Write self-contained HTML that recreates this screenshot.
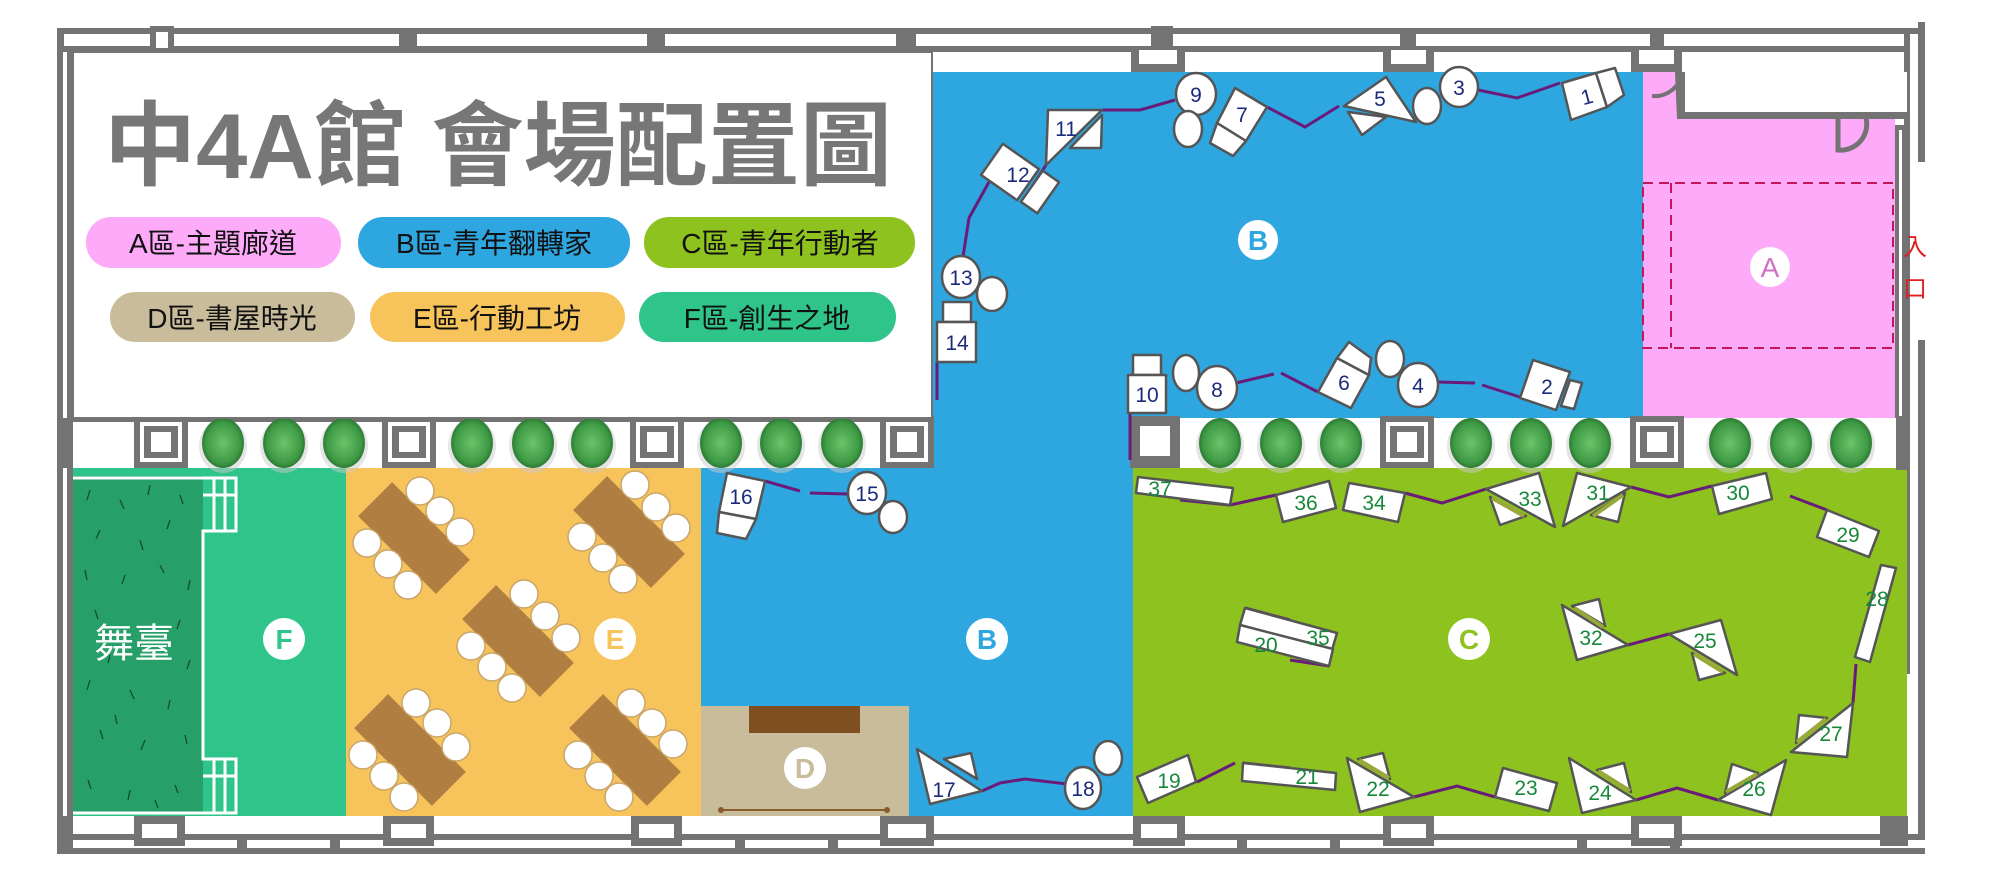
<!DOCTYPE html>
<html><head><meta charset="utf-8"><style>
html,body{margin:0;padding:0;background:#fff;}
svg{display:block;}
.t{font-family:"Liberation Sans","Noto Sans CJK TC",sans-serif;}
</style></head><body>
<svg width="2000" height="886" viewBox="0 0 2000 886" xmlns="http://www.w3.org/2000/svg">
<defs>
<g id="pil"><rect x="0" y="0" width="54" height="52" fill="#737373"/><rect x="6" y="6" width="42" height="40" fill="#fff"/><rect x="10" y="10" width="34" height="32" fill="#737373"/><rect x="17" y="16" width="20" height="20" fill="#fff"/></g>
<g id="pil2"><rect x="0" y="0" width="50" height="52" fill="#737373"/><rect x="10" y="10" width="30" height="30" fill="#fff"/></g>
<radialGradient id="bush" cx="50%" cy="50%" r="50%"><stop offset="0" stop-color="#6cc46a"/><stop offset="0.8" stop-color="#3f9a45"/><stop offset="1" stop-color="#2c7a34"/></radialGradient>
<g id="bu"><ellipse cx="0" cy="3" rx="24" ry="27" fill="#ccc" opacity="0.5"/><ellipse cx="0" cy="0" rx="21" ry="25" fill="url(#bush)"/></g>
<g id="ch"><circle r="14" fill="#fff" stroke="#c9a56a" stroke-width="1.5"/></g>
<g id="tb"><rect x="-55" y="-24" width="110" height="48" fill="#b07e40"/></g>
</defs>

<!-- outer walls -->
<rect x="57" y="28" width="1868" height="826" fill="none"/>
<rect x="57" y="28" width="1868" height="6" fill="#737373"/>
<rect x="57" y="46" width="1850" height="6" fill="#737373"/>
<rect x="57" y="28" width="7" height="26" fill="#737373"/>
<rect x="1918" y="22" width="7" height="140" fill="#737373"/>
<rect x="1904" y="34" width="6" height="640" fill="#737373"/>
<rect x="1918" y="340" width="7" height="500" fill="#737373"/>
<g fill="#737373">
<rect x="150" y="26" width="24" height="28"/><rect x="156" y="32" width="12" height="16" fill="#fff"/>
<rect x="399" y="30" width="18" height="24"/><rect x="647" y="30" width="18" height="24"/><rect x="896" y="30" width="20" height="24"/>
<rect x="1151" y="26" width="22" height="28"/><rect x="1400" y="30" width="16" height="24"/><rect x="1650" y="30" width="14" height="24"/>
</g>
<!-- left wall -->
<rect x="57" y="52" width="16" height="800" fill="#737373"/>
<rect x="63" y="52" width="4" height="366" fill="#fff"/>
<rect x="63" y="468" width="4" height="348" fill="#fff"/>
<!-- bottom wall -->
<rect x="57" y="834" width="1868" height="6" fill="#737373"/>
<rect x="57" y="848" width="1868" height="6" fill="#737373"/>
<g fill="#737373">
<rect x="237" y="834" width="10" height="20"/><rect x="330" y="834" width="10" height="20"/><rect x="735" y="834" width="10" height="20"/><rect x="828" y="834" width="10" height="20"/><rect x="1237" y="834" width="10" height="20"/><rect x="1330" y="834" width="10" height="20"/><rect x="1577" y="834" width="10" height="20"/><rect x="1670" y="834" width="10" height="20"/>
</g>
<g fill="#737373">
<rect x="134" y="816" width="51" height="30"/><rect x="142" y="824" width="35" height="14" fill="#fff"/>
<rect x="383" y="816" width="51" height="30"/><rect x="391" y="824" width="35" height="14" fill="#fff"/>
<rect x="631" y="816" width="51" height="30"/><rect x="639" y="824" width="35" height="14" fill="#fff"/>
<rect x="880" y="816" width="54" height="30"/><rect x="888" y="824" width="38" height="14" fill="#fff"/>
<rect x="1133" y="816" width="52" height="30"/><rect x="1141" y="824" width="36" height="14" fill="#fff"/>
<rect x="1383" y="816" width="51" height="30"/><rect x="1391" y="824" width="35" height="14" fill="#fff"/>
<rect x="1631" y="816" width="51" height="30"/><rect x="1639" y="824" width="35" height="14" fill="#fff"/>
<rect x="1880" y="816" width="28" height="30"/>
</g>

<!-- top pillars right -->
<g fill="#737373">
<rect x="1131" y="50" width="54" height="22"/><rect x="1139" y="50" width="38" height="14" fill="#fff"/>
<rect x="1383" y="50" width="51" height="22"/><rect x="1391" y="50" width="35" height="14" fill="#fff"/>
<rect x="1631" y="50" width="51" height="22"/><rect x="1639" y="50" width="35" height="14" fill="#fff"/>
</g>

<!-- zones -->
<rect x="932" y="72" width="712" height="346" fill="#2ea6e0"/>
<rect x="932" y="418" width="201" height="50" fill="#2ea6e0"/>
<rect x="701" y="468" width="432" height="348" fill="#2ea6e0"/>
<rect x="1643" y="72" width="252" height="346" fill="#fdaaf8"/>
<rect x="1685" y="72" width="222" height="44" fill="#fff"/>
<path d="M1675 72 L1685 72 L1685 112 L1907 112 L1907 119 L1677 119 Z" fill="#737373"/>
<path d="M1682 74 A28 28 0 0 1 1652 96" fill="none" stroke="#737373" stroke-width="4"/>
<path d="M1838 118 L1838 150 A26 26 0 0 0 1866 118" fill="none" stroke="#737373" stroke-width="5"/>
<rect x="1895" y="125" width="12" height="296" fill="#737373"/>
<rect x="1899" y="130" width="3" height="286" fill="#fff"/>
<rect x="1643" y="183" width="250" height="165" fill="none" stroke="#c2185b" stroke-width="2" stroke-dasharray="10,6"/>
<line x1="1671" y1="183" x2="1671" y2="348" stroke="#c2185b" stroke-width="2" stroke-dasharray="10,6"/>
<text class="t" x="1915" y="255" font-size="24" fill="#e02020" text-anchor="middle">入</text>
<text class="t" x="1915" y="297" font-size="24" fill="#e02020" text-anchor="middle">口</text>

<rect x="73" y="468" width="273" height="348" fill="#2ec48a"/>
<rect x="73" y="476" width="130" height="337" fill="#279f68"/>
<g stroke="#114d30" stroke-width="1.3">
<path d="M90 490l-3 10M120 500l4 9M150 485l-2 10M180 495l3 9M100 530l-4 9M140 540l3 10M170 520l-3 9M85 570l2 10M125 575l-3 9M160 565l4 8M190 580l-2 10M95 610l3 9M180 620l-3 9M90 680l-3 10M130 690l4 9M170 700l-2 9M100 730l3 9M145 740l-4 10M185 735l2 9M88 780l3 9M130 790l-2 10M175 785l3 8M110 655l-2 8M190 660l-3 9M115 715l2 9M155 800l3 8"/>
</g>
<g fill="none" stroke="#fff" stroke-width="3">
<path d="M73 478 H236 V531 H203 V759 H236 V813 H73"/>
<path d="M214 478 V531 M225 478 V531 M214 759 V813 M225 759 V813 M203 495 H236 M203 776 H236"/>
</g>
<text class="t" x="134" y="657" font-size="40" fill="#fff" text-anchor="middle">舞臺</text>

<rect x="346" y="468" width="355" height="348" fill="#f7c35b"/>
<rect x="701" y="706" width="208" height="110" fill="#c9bc9b"/>
<rect x="749" y="706" width="111" height="27" fill="#7f4f22"/>
<line x1="721" y1="810" x2="887" y2="810" stroke="#8a5a2a" stroke-width="2"/>
<circle cx="721" cy="810" r="3" fill="#8a5a2a"/><circle cx="887" cy="810" r="3" fill="#8a5a2a"/>
<rect x="1133" y="468" width="774" height="348" fill="#8dc21f"/>

<!-- plant row -->
<rect x="73" y="418" width="860" height="50" fill="#fff"/>
<rect x="1133" y="418" width="774" height="50" fill="#fff"/>
<rect x="73" y="418" width="860" height="4" fill="#737373"/>
<use href="#pil" x="134" y="416"/><use href="#pil" x="382" y="416"/><use href="#pil" x="630" y="416"/><use href="#pil" x="880" y="416"/>
<use href="#pil2" x="1130" y="416"/><use href="#pil" x="1380" y="416"/><use href="#pil" x="1630" y="416"/>
<rect x="1896" y="416" width="14" height="54" fill="#737373"/>
<use href="#bu" x="223" y="443"/><use href="#bu" x="284" y="443"/><use href="#bu" x="344" y="443"/>
<use href="#bu" x="472" y="443"/><use href="#bu" x="533" y="443"/><use href="#bu" x="592" y="443"/>
<use href="#bu" x="721" y="443"/><use href="#bu" x="781" y="443"/><use href="#bu" x="842" y="443"/>
<use href="#bu" x="1220" y="443"/><use href="#bu" x="1281" y="443"/><use href="#bu" x="1341" y="443"/>
<use href="#bu" x="1471" y="443"/><use href="#bu" x="1531" y="443"/><use href="#bu" x="1590" y="443"/>
<use href="#bu" x="1730" y="443"/><use href="#bu" x="1791" y="443"/><use href="#bu" x="1851" y="443"/>

<!-- legend box -->
<rect x="73" y="52" width="859" height="366" fill="#fff" stroke="#737373" stroke-width="2"/>
<text class="t" x="498" y="178" font-size="92" font-weight="bold" fill="#777" text-anchor="middle" textLength="788" lengthAdjust="spacingAndGlyphs">中4A館 會場配置圖</text>
<g class="t" font-size="28" fill="#111">
<rect x="86" y="217" width="255" height="51" rx="25" fill="#fdaaf8"/><text x="213" y="253" text-anchor="middle">A區-主題廊道</text>
<rect x="358" y="217" width="272" height="51" rx="25" fill="#2ea6e0"/><text x="494" y="253" text-anchor="middle">B區-青年翻轉家</text>
<rect x="644" y="217" width="271" height="51" rx="25" fill="#8dc21f"/><text x="780" y="253" text-anchor="middle">C區-青年行動者</text>
<rect x="110" y="292" width="245" height="50" rx="25" fill="#c9bc9b"/><text x="232" y="328" text-anchor="middle">D區-書屋時光</text>
<rect x="370" y="292" width="255" height="50" rx="25" fill="#f7c35b"/><text x="497" y="328" text-anchor="middle">E區-行動工坊</text>
<rect x="639" y="292" width="257" height="50" rx="25" fill="#2ec48a"/><text x="767" y="328" text-anchor="middle">F區-創生之地</text>
</g>

<!-- zone markers -->
<g class="t" font-size="28" font-weight="bold" text-anchor="middle">
<circle cx="1258" cy="240" r="20" fill="#fff"/><text x="1258" y="250" fill="#2ea6e0">B</text>
<circle cx="1770" cy="267" r="20" fill="#fff"/><text x="1770" y="277" fill="#d070c0" font-weight="normal">A</text>
<circle cx="284" cy="639" r="21" fill="#fff"/><text x="284" y="649" fill="#2ec48a">F</text>
<circle cx="615" cy="639" r="21" fill="#fff"/><text x="615" y="649" fill="#f7c35b">E</text>
<circle cx="987" cy="639" r="21" fill="#fff"/><text x="987" y="649" fill="#2ea6e0">B</text>
<circle cx="805" cy="768" r="21" fill="#fff"/><text x="805" y="778" fill="#c9bc9b">D</text>
<circle cx="1469" cy="639" r="21" fill="#fff"/><text x="1469" y="649" fill="#8dc21f">C</text>
</g>

<!-- E tables -->
<g>
<g transform="translate(414,538) rotate(45)"><use href="#tb"/></g>
<use href="#ch" x="420" y="491"/><use href="#ch" x="440" y="511"/><use href="#ch" x="460" y="532"/><use href="#ch" x="367" y="543"/><use href="#ch" x="388" y="564"/><use href="#ch" x="408" y="585"/>
<g transform="translate(629,532) rotate(45)"><use href="#tb"/></g>
<use href="#ch" x="635" y="485"/><use href="#ch" x="656" y="507"/><use href="#ch" x="676" y="528"/><use href="#ch" x="582" y="537"/><use href="#ch" x="603" y="558"/><use href="#ch" x="623" y="579"/>
<g transform="translate(518,641) rotate(45)"><use href="#tb"/></g>
<use href="#ch" x="524" y="594"/><use href="#ch" x="545" y="616"/><use href="#ch" x="566" y="638"/><use href="#ch" x="471" y="646"/><use href="#ch" x="492" y="667"/><use href="#ch" x="512" y="688"/>
<g transform="translate(410,750) rotate(45)"><use href="#tb"/></g>
<use href="#ch" x="416" y="703"/><use href="#ch" x="437" y="723"/><use href="#ch" x="456" y="747"/><use href="#ch" x="363" y="755"/><use href="#ch" x="384" y="776"/><use href="#ch" x="404" y="797"/>
<g transform="translate(625,750) rotate(45)"><use href="#tb"/></g>
<use href="#ch" x="631" y="703"/><use href="#ch" x="652" y="723"/><use href="#ch" x="673" y="744"/><use href="#ch" x="578" y="755"/><use href="#ch" x="599" y="776"/><use href="#ch" x="619" y="797"/>
</g>

<!-- connectors -->
<g fill="none" stroke="#6a1b7a" stroke-width="3">
<polyline points="1478,90 1517,98 1560,83"/>
<polyline points="1267,107 1305,127 1339,106"/>
<polyline points="1175,100 1140,110 1102,110"/>
<polyline points="1046,165 1030,190"/>
<polyline points="989,182 969,218 963,257"/>
<polyline points="937,362 937,400"/>
<polyline points="1236,383 1274,374"/><polyline points="1281,373 1318,392"/>
<polyline points="1437,382 1475,383"/><polyline points="1482,385 1520,397"/>
<polyline points="1130,413 1130,460"/>
<polyline points="765,481 800,491"/><polyline points="810,493 848,494"/>
<polyline points="982,791 1000,783 1025,779 1067,784"/>
<polyline points="1230,505 1276,495"/>
<polyline points="1405,493 1442,503 1486,489"/>
<polyline points="1631,487 1669,497 1712,486"/>
<polyline points="1790,496 1827,510"/>
<polyline points="1868,620 1858,655"/>
<polyline points="1856,664 1853,703"/>
<polyline points="1718,800 1677,788 1636,800"/>
<polyline points="1495,797 1457,786 1414,797"/>
<polyline points="1197,782 1235,763"/>
<polyline points="1628,645 1669,634"/>
<polyline points="1245,608 1290,620"/><polyline points="1290,660 1329,666"/>
<polyline points="1180,500 1230,505"/>
<polyline points="1243,763 1290,768"/>
</g>

<!-- booths -->
<g fill="#fff" stroke="#555" stroke-width="2.5" stroke-linejoin="round">
<!-- B upper -->
<polygon points="1562,83 1596,73 1607,107 1571,120"/>
<polygon points="1596,73 1615,68 1624,95 1607,107"/>
<ellipse cx="1459" cy="87" rx="19" ry="20"/><ellipse cx="1427" cy="106" rx="14" ry="18"/>
<polygon points="1386,77 1416,122 1344,106"/><polygon points="1348,112 1386,117 1362,135"/>
<polygon points="1235,88 1267,107 1246,141 1217,123"/><polygon points="1217,123 1246,141 1233,156 1210,143"/>
<ellipse cx="1196" cy="94" rx="20" ry="21"/><ellipse cx="1188" cy="129" rx="14" ry="18"/>
<polygon points="1048,110 1102,110 1046,165"/><polygon points="1102,115 1101,148 1070,148"/>
<g transform="translate(1010,172) rotate(35)"><rect x="-22" y="-19" width="44" height="38"/></g>
<g transform="translate(1040,192) rotate(35)"><rect x="-10" y="-19" width="20" height="38"/></g>
<ellipse cx="961" cy="277" rx="19" ry="21"/><ellipse cx="992" cy="294" rx="15" ry="17"/>
<rect x="943" y="302" width="28" height="20"/><rect x="937" y="322" width="39" height="40"/>
<!-- B lower upper row -->
<polygon points="1533,360 1570,372 1556,410 1520,398"/><polygon points="1570,380 1582,383 1574,409 1561,406"/>
<ellipse cx="1418" cy="385" rx="20" ry="22"/><ellipse cx="1390" cy="359" rx="14" ry="18"/>
<polygon points="1337,358 1369,375 1351,408 1318,392"/><polygon points="1349,342 1371,358 1369,375 1337,358"/>
<ellipse cx="1217" cy="388" rx="20" ry="22"/><ellipse cx="1186" cy="373" rx="13" ry="18"/>
<rect x="1133" y="355" width="28" height="20"/><rect x="1128" y="375" width="38" height="38"/>
<!-- B lower -->
<polygon points="727,473 765,481 756,519 719,512"/><polygon points="719,512 756,519 746,539 717,533"/>
<ellipse cx="867" cy="493" rx="19" ry="21"/><ellipse cx="893" cy="517" rx="14" ry="16"/>
<polygon points="917,749 982,791 930,804"/><polygon points="944,759 971,753 977,779"/>
<ellipse cx="1083" cy="788" rx="18" ry="21"/><ellipse cx="1108" cy="758" rx="14" ry="17"/>
<!-- C -->
<polygon points="1138,477 1233,488 1230,505 1136,493"/>
<polygon points="1276,495 1329,481 1336,508 1283,522"/>
<polygon points="1349,483 1405,493 1398,522 1343,510"/>
<polygon points="1486,489 1539,473 1555,527"/><polygon points="1490,497 1526,516 1500,525"/>
<polygon points="1577,473 1631,487 1563,526"/><polygon points="1625,493 1618,522 1591,515"/>
<polygon points="1712,486 1766,473 1772,499 1719,514"/>
<polygon points="1827,510 1879,531 1869,557 1817,537"/>
<polygon points="1881,565 1896,568 1870,662 1855,657"/>
<polygon points="1562,605 1628,645 1577,660"/><polygon points="1572,606 1599,599 1605,626"/>
<polygon points="1669,634 1721,620 1737,675"/><polygon points="1692,653 1725,673 1699,680"/>
<polygon points="1245,608 1337,633 1332,650 1240,625"/>
<polygon points="1240,625 1333,649 1329,666 1237,642"/>
<polygon points="1853,703 1847,757 1791,752"/><polygon points="1799,715 1827,718 1796,743"/>
<polygon points="1786,760 1771,815 1718,800"/><polygon points="1732,764 1758,773 1725,793"/>
<polygon points="1569,758 1636,800 1582,813"/><polygon points="1597,770 1624,763 1631,792"/>
<polygon points="1503,768 1557,783 1549,811 1495,797"/>
<polygon points="1347,758 1414,797 1360,812"/><polygon points="1358,759 1383,753 1390,779"/>
<polygon points="1243,763 1336,773 1335,790 1242,781"/>
<polygon points="1137,777 1188,755 1196,782 1148,803"/>
</g>
<g stroke="#9aa83a" stroke-width="4">
<line x1="1492" y1="498" x2="1524" y2="516"/><line x1="1623" y1="495" x2="1593" y2="516"/>
<line x1="1574" y1="608" x2="1603" y2="627"/><line x1="1694" y1="654" x2="1723" y2="672"/>
<line x1="1826" y1="719" x2="1797" y2="742"/><line x1="1757" y1="774" x2="1726" y2="792"/>
<line x1="1598" y1="771" x2="1630" y2="791"/><line x1="1359" y1="760" x2="1389" y2="778"/>
</g>

<!-- numbers -->
<g class="t" font-size="21" fill="#1b2a7a" text-anchor="middle">
<text x="1587" y="104" transform="rotate(-15 1587 97)">1</text>
<text x="1547" y="394">2</text>
<text x="1459" y="95">3</text>
<text x="1418" y="393">4</text>
<text x="1380" y="106">5</text>
<text x="1344" y="390">6</text>
<text x="1242" y="122">7</text>
<text x="1217" y="397">8</text>
<text x="1196" y="102">9</text>
<text x="1147" y="402">10</text>
<text x="1066" y="136">11</text>
<text x="1018" y="182">12</text>
<text x="961" y="285">13</text>
<text x="957" y="350">14</text>
<text x="867" y="501">15</text>
<text x="741" y="504">16</text>
<text x="944" y="797">17</text>
<text x="1083" y="796">18</text>
</g>
<g class="t" font-size="21" fill="#17883a" text-anchor="middle">
<text x="1160" y="496">37</text>
<text x="1306" y="510">36</text>
<text x="1374" y="510">34</text>
<text x="1530" y="506">33</text>
<text x="1598" y="500">31</text>
<text x="1738" y="500">30</text>
<text x="1848" y="542">29</text>
<text x="1877" y="606">28</text>
<text x="1591" y="645">32</text>
<text x="1705" y="648">25</text>
<text x="1318" y="645">35</text>
<text x="1266" y="652">20</text>
<text x="1831" y="741">27</text>
<text x="1754" y="796">26</text>
<text x="1600" y="800">24</text>
<text x="1526" y="795">23</text>
<text x="1378" y="796">22</text>
<text x="1307" y="784">21</text>
<text x="1169" y="788">19</text>
</g>
</svg>
</body></html>
